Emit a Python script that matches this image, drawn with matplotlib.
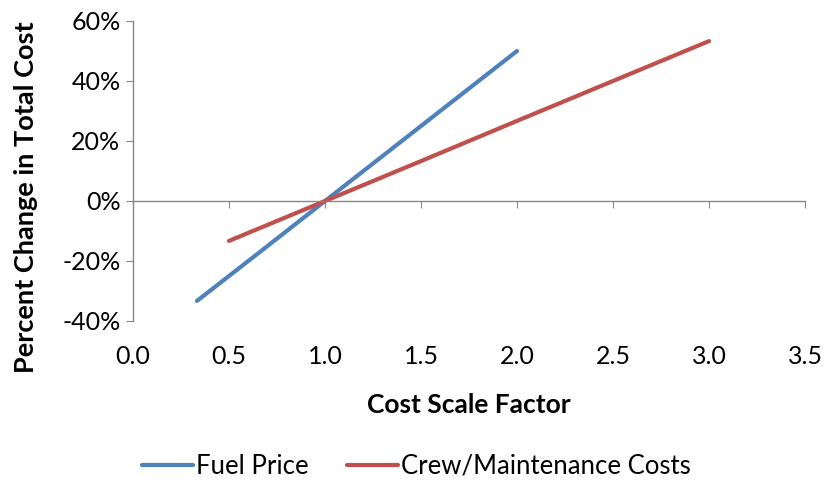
import matplotlib.pyplot as plt
import matplotlib.ticker as mticker
import numpy as np

# data
fuel_x = [1 / 3, 0.5, 2 / 3, 1.0, 1.5, 2.0]
fuel_y = [-33.3, -25.0, -16.7, 0.0, 25.0, 50.0]
crew_x = [0.5, 1.0, 1.5, 2.0, 2.5, 3.0]
crew_y = [-13.3, 0.0, 13.3, 26.7, 40.0, 53.3]
x_ticks = [0.0, 0.5, 1.0, 1.5, 2.0, 2.5, 3.0, 3.5]
y_ticks = [-40, -20, 0, 20, 40, 60]

plt.rcParams["font.family"] = ["Lato", "DejaVu Sans"]
axis_grey = "#868686"

fig = plt.figure(figsize=(8.27, 4.83), dpi=100)
ax = fig.add_axes([133 / 827, 1 - 321 / 483, (805 - 133) / 827, (321 - 21) / 483])

ax.plot(fuel_x, fuel_y, color="#4F81BD", lw=3.0, solid_capstyle="round", label="Fuel Price")
ax.plot(crew_x, crew_y, color="#C0504D", lw=3.0, solid_capstyle="round",
        label="Crew/Maintenance Costs")

ax.set_xlim(0, 3.5)
ax.set_ylim(-40, 60)
ax.set_yticks(y_ticks)
ax.yaxis.set_major_formatter(mticker.FuncFormatter(lambda v, p: f"{v:.0f}%"))
ax.set_xticks(x_ticks)

for s in ["top", "right"]:
    ax.spines[s].set_visible(False)
ax.spines["bottom"].set_position(("data", 0))
for s in ["left", "bottom"]:
    ax.spines[s].set_color(axis_grey)
    ax.spines[s].set_linewidth(1.0)

ax.tick_params(axis="y", direction="out", length=5, color=axis_grey, labelsize=18, pad=4)
ax.tick_params(axis="x", direction="out", length=5, color=axis_grey, labelbottom=False)

# tick labels of x axis sit at the bottom of the plot area
sec = ax.secondary_xaxis("bottom")
sec.set_xticks(x_ticks)
sec.xaxis.set_major_formatter(mticker.FormatStrFormatter("%.1f"))
sec.tick_params(length=0, labelsize=18, pad=17)
sec.spines["bottom"].set_visible(False)
sec.set_xlabel("Cost Scale Factor", fontsize=19, fontweight="bold", labelpad=18)

ax.set_ylabel("Percent Change in Total Cost", fontsize=19.5, fontweight="bold")
ax.yaxis.set_label_coords(-0.141, 0.413)

fig.legend(loc="center", bbox_to_anchor=(416 / 827, 1 - 466 / 483), ncol=2,
           frameon=False, fontsize=18.5, handlelength=2.0, handletextpad=0.1,
           columnspacing=1.5)

fig.savefig("out.png", dpi=100)
